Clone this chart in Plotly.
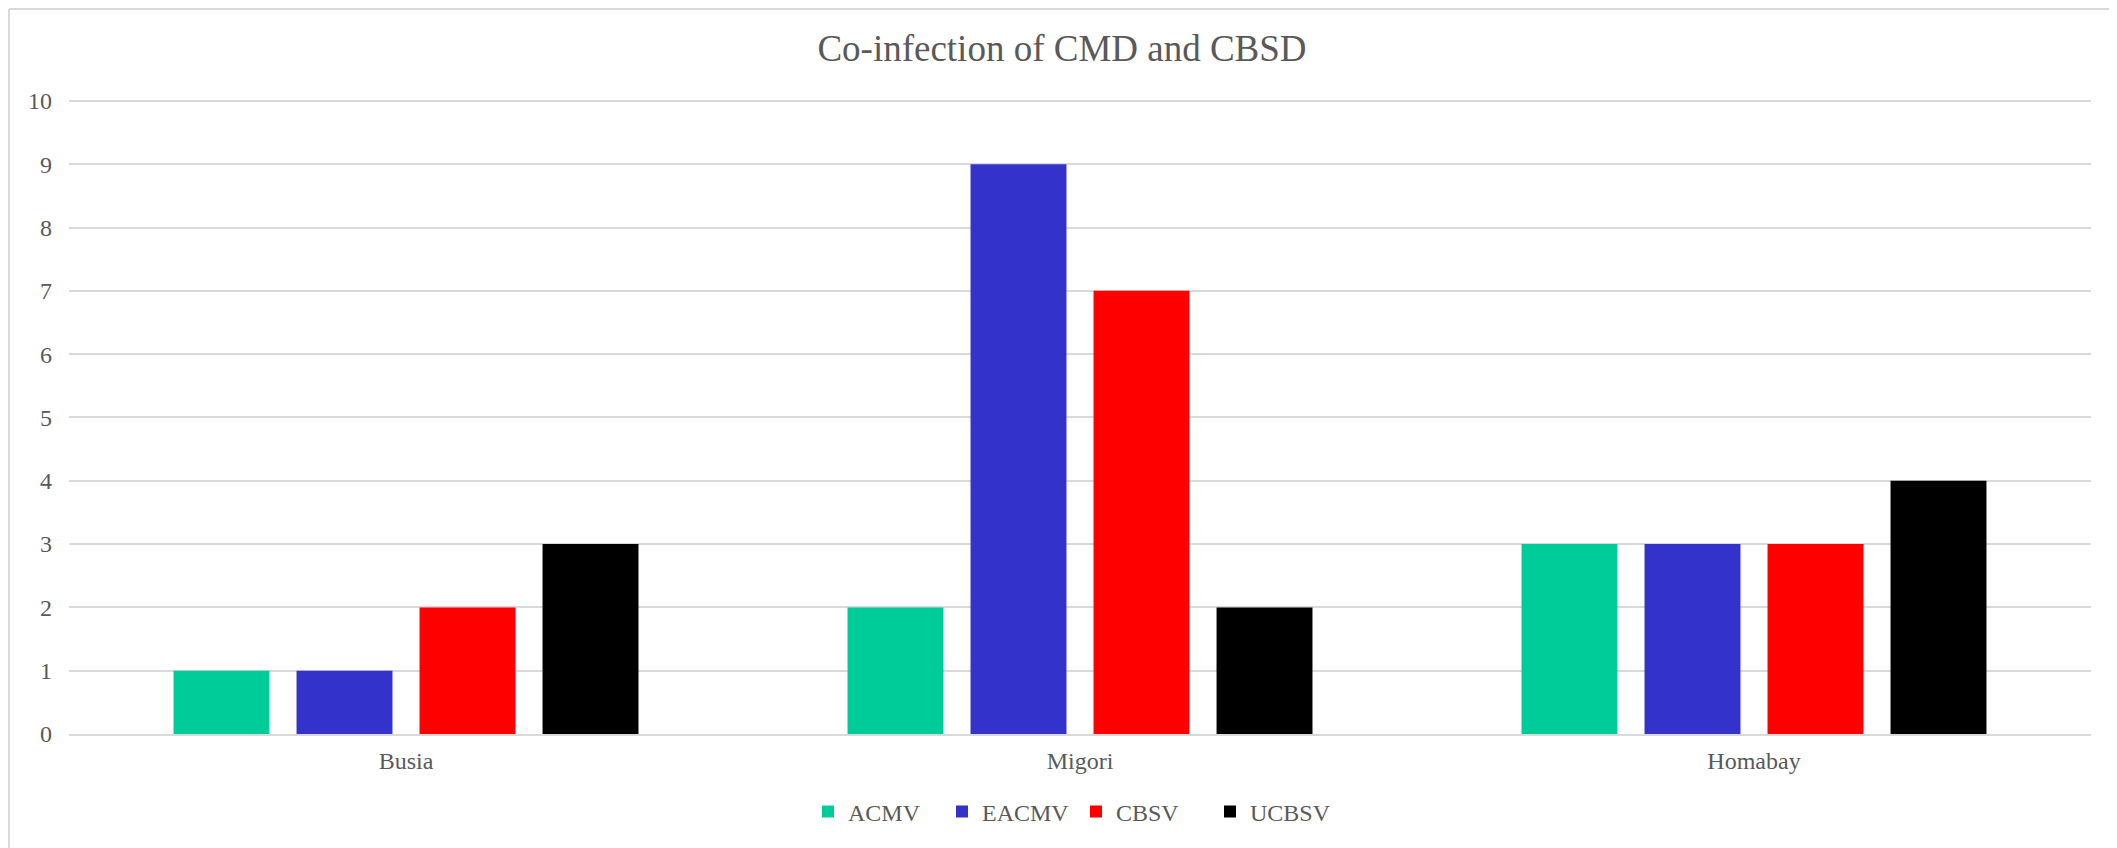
import plotly.graph_objects as go

categories = ["Busia", "Migori", "Homabay"]
acmv = [1, 2, 3]
eacmv = [1, 9, 3]
cbsv = [2, 7, 3]
ucbsv = [3, 2, 4]
y_ticks = [0, 1, 2, 3, 4, 5, 6, 7, 8, 9, 10]

series = [
    ("ACMV", acmv, "#00CC99"),
    ("EACMV", eacmv, "#3333CC"),
    ("CBSV", cbsv, "#FF0000"),
    ("UCBSV", ucbsv, "#000000"),
]

OFF = 8  # page body margin
W, H = 2109, 840
ML, MR, MT, MB = 61, 26, 91, 114
PW = W - ML - MR
PH = H - MT - MB


def px_x(x):
    return (x - OFF - ML) / PW


def px_y(y):
    return (H - MB - (y - OFF)) / PH


TXT = "#595959"
FONT = "Liberation Serif, Times New Roman, serif"

fig = go.Figure()
for name, vals, col in series:
    fig.add_trace(go.Bar(x=categories, y=vals, name=name, marker=dict(color=col, line=dict(width=0))))

fig.update_layout(
    width=W, height=H,
    margin=dict(l=ML, r=MR, t=MT, b=MB),
    paper_bgcolor="white", plot_bgcolor="white",
    barmode="group", bargap=0.27, bargroupgap=0.22,
    font=dict(family=FONT, color=TXT, size=24),
    title=dict(text="Co-infection of CMD and CBSD", x=(1062 - OFF) / W, xref="container", xanchor="center",
               y=1 - (48 - OFF) / H, yref="container", yanchor="middle",
               font=dict(family=FONT, size=37, color=TXT)),
    legend=dict(orientation="h", x=px_x(808), xanchor="left", y=px_y(812), yanchor="middle",
                entrywidth=89, entrywidthmode="pixels",
                font=dict(family=FONT, size=24, color=TXT), itemclick=False,
                bgcolor="rgba(0,0,0,0)", traceorder="normal"),
    showlegend=True,
)
fig.update_yaxes(range=[0, 10.03], tickvals=y_ticks, showgrid=True, gridcolor="#D9D9D9", gridwidth=1.5,
                 zeroline=False, showline=False, ticks="", ticklabelstandoff=16,
                 tickfont=dict(family=FONT, size=24, color=TXT))
fig.update_xaxes(showgrid=False, zeroline=False, showline=True, linecolor="#D9D9D9", linewidth=1.5,
                 ticks="", ticklabelstandoff=4, tickfont=dict(family=FONT, size=24, color=TXT))

# outer chart-area border (top and left edges visible)
fig.add_shape(type="line", xref="paper", yref="paper", x0=px_x(9), x1=px_x(W + 40), y0=px_y(9), y1=px_y(9),
              line=dict(color="#D9D9D9", width=2))
fig.add_shape(type="line", xref="paper", yref="paper", x0=px_x(9), x1=px_x(9), y0=px_y(9), y1=px_y(H + 40),
              line=dict(color="#D9D9D9", width=2))

fig.write_html("out.html")
